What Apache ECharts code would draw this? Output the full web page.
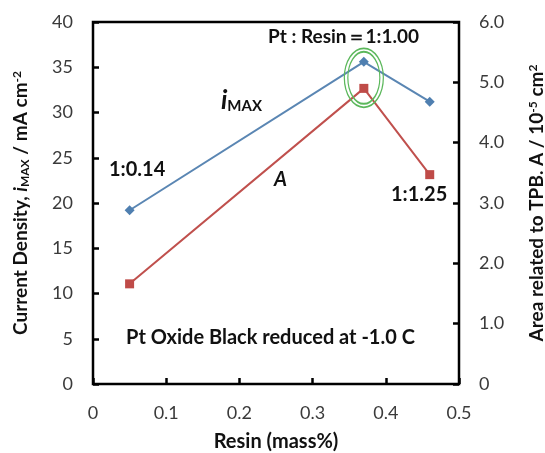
<!DOCTYPE html>
<html>
<head>
<meta charset="utf-8">
<script src="https://cdn.jsdelivr.net/npm/echarts@6/dist/echarts.min.js"></script>
<style>
	html, body { margin: 0; padding: 0; background: #fff; }
	#chart { width: 545px; height: 453px; }
</style>
</head>
<body>
<div id="chart"></div>
<script>
// Resin content (mass%) of the three electrodes
const resinMass = [0.05, 0.37, 0.46];
// Current density i_MAX (mA cm-2), left axis
const currentDensity = [19.2, 35.6, 31.2];
// Area related to TPB, A (10^-5 cm2), right axis
const tpbArea = [1.66, 4.90, 3.47];
// Pt : Resin ratio labels
const ratioLabels = ["1:0.14", "1:1.00", "1:1.25"];

const FONT = "Lato";
const tickColor = "#3a3a3a";

const toPairs = (xs, ys) => xs.map((x, i) => [x, ys[i]]);

const chart = echarts.init(document.getElementById("chart"));

const nameRich = {
	b: { fontFamily: FONT, fontWeight: "bold", fontSize: 19, color: "#111" },
	it: { fontFamily: FONT, fontWeight: "bold", fontStyle: "italic", fontSize: 19, color: "#111" },
	sub: { fontFamily: FONT, fontWeight: "bold", fontSize: 12, color: "#111", verticalAlign: "bottom", padding: [6, 0, 0, 0] },
	sup: { fontFamily: FONT, fontWeight: "bold", fontSize: 12, color: "#111", verticalAlign: "top", padding: [0, 0, 8, 0] }
};

const annotation = (text, left, top, size, extra) => ({
	type: "text",
	left,
	top,
	style: Object.assign({
		text,
		fontFamily: FONT,
		fontWeight: "bold",
		fontSize: size,
		fill: "#111"
	}, extra || {})
});

const tickStyle = { show: true, inside: true, length: 6, lineStyle: { color: "#000", width: 2.5 } };

chart.setOption({
	animation: false,
	backgroundColor: "#fff",
	grid: {
		left: 93,
		right: 86,
		top: 22,
		bottom: 69,
		containLabel: false,
		outerBoundsMode: "none",
		show: true,
		borderColor: "#000",
		borderWidth: 2.5
	},
	xAxis: {
		type: "value",
		min: 0,
		max: 0.5,
		interval: 0.1,
		name: "Resin (mass%)",
		nameLocation: "middle",
		nameGap: 48,
		nameTextStyle: { fontFamily: FONT, fontWeight: "bold", fontSize: 20, color: "#111" },
		axisLine: { show: false },
		axisTick: tickStyle,
		axisLabel: {
			margin: 20,
			fontFamily: FONT,
			fontSize: 18,
			color: tickColor,
			formatter: v => (v === 0 ? "0" : v.toFixed(1))
		},
		splitLine: { show: false }
	},
	yAxis: [
		{
			type: "value",
			position: "left",
			min: 0,
			max: 40,
			interval: 5,
			name: "{b|Current Density, }{it|i}{sub|MAX}{b| / mA cm}{sup|-2}",
			nameLocation: "middle",
			nameRotate: 90,
			nameGap: 62,
			nameTextStyle: { rich: nameRich },
			axisLine: { show: false },
			axisTick: tickStyle,
			axisLabel: { margin: 20, fontFamily: FONT, fontSize: 18, color: tickColor },
			splitLine: { show: false }
		},
		{
			type: "value",
			position: "right",
			min: 0,
			max: 6,
			interval: 1,
			name: "{b|Area related to TPB. A / 10}{sup|-5}{b| cm}{sup|2}",
			nameLocation: "middle",
			nameRotate: 90,
			nameGap: 68,
			nameTextStyle: { rich: nameRich },
			axisLine: { show: false },
			axisTick: tickStyle,
			axisLabel: {
				margin: 20,
				fontFamily: FONT,
				fontSize: 18,
				color: tickColor,
				formatter: v => (v === 0 ? "0" : v.toFixed(1))
			},
			splitLine: { show: false }
		}
	],
	series: [
		{
			name: "iMAX",
			type: "line",
			yAxisIndex: 0,
			data: toPairs(resinMass, currentDensity),
			symbol: "diamond",
			symbolSize: 10,
			lineStyle: { color: "#5a86b3", width: 2 },
			itemStyle: { color: "#4f7fb0" },
			markPoint: {
				symbol: "circle",
				silent: true,
				label: { show: false },
				itemStyle: { color: "rgba(0,0,0,0)", borderColor: "#5cb85c", borderWidth: 1.5 },
				data: [
					{ coord: [resinMass[1], currentDensity[1]], symbolSize: [39, 59], symbolOffset: [0, 16] },
					{ coord: [resinMass[1], currentDensity[1]], symbolSize: [32, 52], symbolOffset: [0, 16] }
				]
			}
		},
		{
			name: "A",
			type: "line",
			yAxisIndex: 1,
			data: toPairs(resinMass, tpbArea),
			symbol: "rect",
			symbolSize: 9,
			lineStyle: { color: "#c0504d", width: 2 },
			itemStyle: { color: "#bf4b48" }
		}
	],
	graphic: [
		annotation("Pt : Resin\uFF1D" + ratioLabels[1], 268, 27, 19),
		annotation(ratioLabels[0], 109, 160, 20),
		annotation(ratioLabels[2], 391, 185, 20),
		annotation("Pt Oxide Black reduced at -1.0 C", 126, 328, 20),
		annotation("A", 274, 170, 20, { fontStyle: "italic" }),
		{
			type: "text",
			left: 221,
			top: 88,
			style: {
				text: "{i|i}{s|MAX}",
				rich: {
					i: { fontFamily: FONT, fontWeight: "bold", fontStyle: "italic", fontSize: 26, fill: "#111", verticalAlign: "bottom" },
					s: { fontFamily: FONT, fontWeight: "bold", fontSize: 15, fill: "#111", verticalAlign: "bottom" }
				}
			}
		}
	]
});
</script>
</body>
</html>
